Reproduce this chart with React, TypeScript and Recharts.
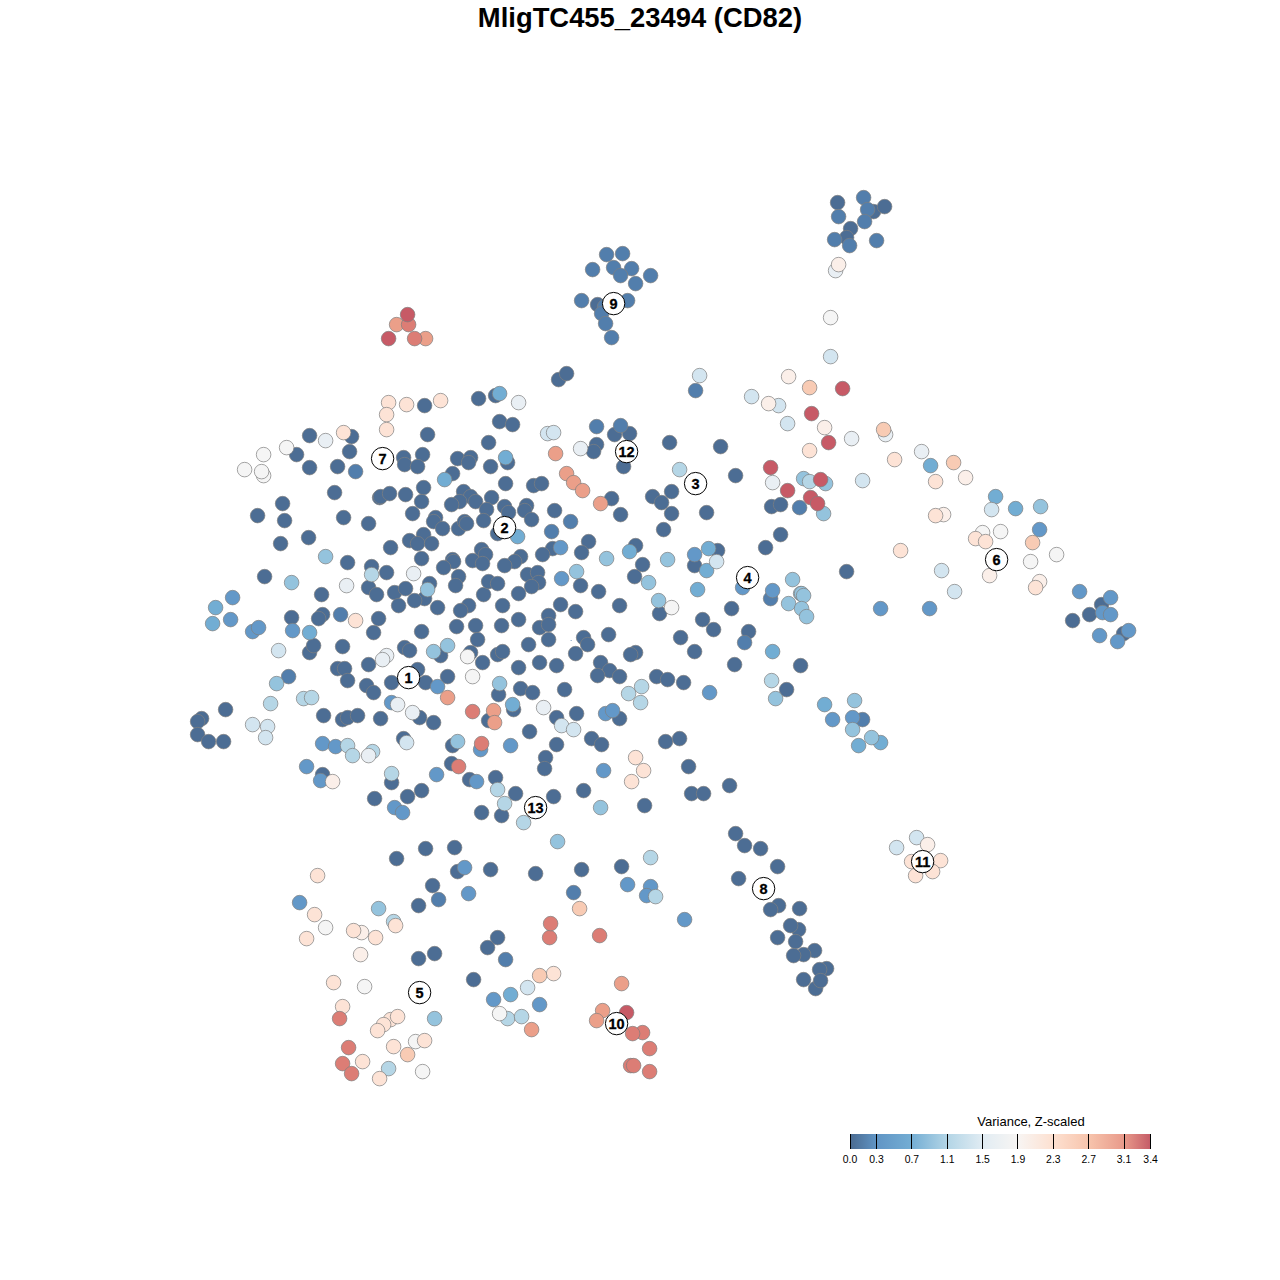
import { ScatterChart, Scatter, XAxis, YAxis } from 'recharts';

type Pt = [number, number];

// points, grouped by colour step of the variance scale
const level0: Pt[] = [
  [558,379],[566,373],[424,405],[478,398],[495,395],[499,421],[512,424],[488,442],[427,434],[309,435],[351,436],[296,454],[349,451],[309,467],[337,466],
  [403,457],[404,464],[422,454],[417,466],[457,458],[470,457],[468,462],[490,466],[452,473],[334,492],[379,497],[380,496],[389,493],[405,494],[423,487],[421,501],
  [463,491],[470,496],[459,501],[451,504],[475,501],[491,497],[486,509],[483,520],[282,503],[257,515],[284,520],[280,543],[308,537],[343,517],[368,523],[412,513],
  [435,517],[433,521],[442,528],[458,528],[464,521],[466,523],[423,534],[409,540],[417,543],[431,543],[390,547],[481,549],[485,554],[472,560],[482,563],[452,559],
  [453,561],[443,567],[421,558],[347,562],[371,566],[386,572],[264,576],[321,594],[368,587],[376,594],[394,592],[405,588],[429,583],[424,598],[414,600],[398,605],
  [437,607],[458,576],[455,585],[483,594],[488,581],[497,583],[468,605],[460,610],[291,617],[322,614],[318,618],[378,618],[373,632],[421,631],[456,626],[475,625],
  [497,654],[502,651],[309,652],[313,645],[342,646],[404,647],[409,650],[477,639],[440,655],[368,664],[470,652],[482,662],[337,668],[344,668],[347,680],[366,685],
  [373,692],[391,682],[417,669],[425,682],[447,676],[498,694],[419,717],[433,722],[323,715],[225,709],[201,718],[197,721],[197,734],[208,741],[223,741],[342,719],
  [347,717],[357,715],[380,718],[488,720],[403,738],[452,745],[322,774],[391,782],[451,763],[469,779],[421,790],[407,796],[374,798],[481,812],[501,815],
  [518,619],[501,625],[548,615],[539,627],[548,624],[575,611],[548,639],[528,644],[518,667],[539,662],[556,665],[583,637],[587,644],[575,653],[608,634],[635,652],
  [630,654],[600,662],[609,670],[597,675],[619,676],[659,613],[702,619],[713,629],[680,637],[694,651],[748,631],[734,664],[800,665],[656,676],[667,679],[683,682],
  [786,689],[520,688],[532,692],[564,689],[513,709],[556,717],[576,713],[619,718],[529,731],[556,744],[591,738],[601,744],[665,741],[679,738],[545,757],[544,768],
  [688,766],[729,785],[691,793],[703,793],[495,777],[515,793],[553,796],[583,790],[644,805],[735,833],
  [614,434],[629,433],[596,444],[593,451],[623,466],[669,442],[720,446],[611,498],[620,514],[735,475],[652,496],[671,491],[661,502],[671,513],[706,512],[663,529],
  [507,462],[505,483],[533,485],[541,483],[504,506],[508,512],[526,505],[524,510],[531,519],[554,510],[497,533],[588,541],[552,548],[542,554],[581,552],[520,556],
  [514,561],[504,565],[635,545],[642,564],[634,576],[694,565],[717,550],[765,547],[780,534],[527,574],[537,572],[538,582],[531,586],[518,593],[580,585],[598,591],
  [502,605],[560,604],[619,605],[731,608],[846,571],[771,506],[780,504],
  [744,845],[760,848],[777,866],[738,878],[778,905],[770,909],[799,908],[798,929],[790,925],[777,937],[795,941],[814,950],[803,954],[793,955],[826,968],[819,969],
  [803,979],[815,988],[820,980],[396,858],[425,848],[454,847],[457,871],[490,869],[535,873],[581,869],[621,866],[432,885],[418,905],[497,937],[487,947],[418,958],[434,953],[473,979],
  [597,304],[1101,604],[1123,633],[1089,614],[1072,620],[837,202],[873,211],[884,206],[850,228],[846,237],
];
const level1: Pt[] = [
  [863,197],[867,209],[838,216],[864,221],[834,239],[849,245],[876,240],
  [606,254],[622,253],[613,267],[631,268],[592,269],[620,275],[650,275],[635,283],[581,300],[627,300],[604,306],[601,313],[605,323],[611,337],
  [695,390],[596,426],[620,425],[355,471],[570,521],[551,531],[340,614],[288,676],[799,507],[770,598],[744,642],[573,892],[438,899],[505,959],[862,719],
];
const level2: Pt[] = [
  [232,597],[230,619],[252,631],[258,627],[292,630],[391,702],[605,713],[612,710],[510,745],[436,774],[603,770],[476,781],[480,749],[560,547],[561,578],[694,554],
  [742,587],[772,590],[709,692],[464,867],[468,893],[627,884],[650,886],[646,895],[684,919],[493,999],[539,1004],[880,608],[929,608],[1039,529],[1110,597],[1102,612],
  [1110,614],[1099,635],[1117,641],[1128,630],[1079,591],[394,807],[402,812],[437,686],[832,719],[852,717],[320,780],[306,766],[322,743],[335,746],[299,902],
];
const level3: Pt[] = [
  [444,479],[212,623],[215,607],[309,632],[505,457],[499,393],[517,536],[708,548],[706,570],[697,589],[629,551],[512,704],[995,496],[1015,508],[930,465],[824,704],
  [880,742],[858,745],[772,651],[510,994],
];
const level4: Pt[] = [
  [291,582],[427,589],[433,651],[447,645],[325,556],[606,558],[667,559],[576,571],[648,582],[658,600],[792,579],[788,603],[800,593],[801,593],[803,595],[801,608],
  [806,616],[499,683],[276,683],[457,741],[557,841],[600,807],[378,908],[434,1018],[1040,506],[854,700],[852,729],[871,737],[775,698],[823,513],[825,483],[803,478],
];
const level5: Pt[] = [
  [371,574],[303,698],[311,697],[347,745],[352,755],[372,751],[391,773],[497,789],[504,803],[523,822],[679,469],[641,686],[628,693],[640,702],[771,680],[650,857],
  [655,896],[393,921],[388,1068],[507,1018],[521,1016],[809,481],[270,703],
];
const level6: Pt[] = [
  [278,650],[252,724],[267,726],[265,737],[406,742],[561,725],[573,729],[547,433],[553,432],[699,375],[751,396],[778,405],[787,423],[862,480],[527,987],[716,561],
  [941,570],[954,591],[991,509],[916,837],[896,847],[830,356],
];
const level7: Pt[] = [
  [325,440],[346,585],[413,573],[386,655],[382,659],[397,704],[412,712],[518,402],[580,448],[772,482],[851,438],[885,434],[921,451],[368,755],[543,707],[835,270],
];
const level8: Pt[] = [
  [286,447],[263,454],[244,469],[263,475],[261,471],[467,656],[472,676],[671,607],[499,1013],[422,1071],[415,1041],[364,986],[982,532],[1000,531],[1056,554],[1030,561],
  [830,317],[325,927],
];
const level9: Pt[] = [
  [332,781],[788,376],[768,403],[824,427],[965,477],[943,514],[989,575],[1039,581],[360,954],[361,932],[838,264],[927,844],
];
const level10: Pt[] = [
  [388,402],[406,404],[440,400],[386,414],[386,429],[343,432],[355,620],[635,757],[643,770],[631,781],[809,450],[894,459],[935,481],[935,515],[975,538],[985,541],
  [900,550],[1035,587],[317,875],[314,914],[395,925],[353,930],[375,937],[306,938],[333,982],[553,973],[342,1006],[390,1019],[383,1024],[397,1016],[377,1030],[424,1040],
  [393,1046],[362,1061],[379,1078],[911,861],[940,860],[932,871],[915,875],
];
const level11: Pt[] = [
  [809,387],[883,429],[953,462],[1032,542],[579,908],[539,975],[407,1054],
];
const level12: Pt[] = [
  [447,697],[555,453],[566,473],[573,482],[582,490],[600,503],[493,710],[494,722],[621,983],[602,1010],[596,1020],[396,324],[425,338],[531,1029],
];
const level13: Pt[] = [
  [408,324],[414,338],[472,711],[481,743],[549,937],[599,935],[642,1032],[649,1048],[630,1065],[633,1065],[649,1071],[632,1033],[348,1047],[458,766],[550,923],[339,1018],
  [342,1063],[351,1073],
];
const level14: Pt[] = [
  [407,314],[388,338],[842,388],[811,413],[828,442],[770,467],[787,490],[820,479],[810,497],[817,503],[626,1012],
];
const strayPoints: Pt[] = [[570.5, 640]];

const levels = [level0, level1, level2, level3, level4, level5, level6, level7, level8, level9, level10, level11, level12, level13, level14];
const levelColors = ['#4c6d94', '#527eac', '#6398c8', '#72add3', '#94c3dd', '#b5d6e6', '#d3e5f0', '#e9eff4', '#f5f5f5', '#fbefe9', '#fde3d6', '#f8cbb4', '#eb9f89', '#dc7d75', '#c75a66'];

const clusterIds = ['1', '2', '3', '4', '5', '6', '7', '8', '9', '10', '11', '12', '13'];
const clusterX = [408, 504, 695, 747, 419, 996, 382, 763, 613, 616, 922, 626, 535];
const clusterY = [677, 527, 483, 577, 992, 559, 458, 888, 303, 1023, 861, 451, 807];

const legendTicks = [0.0, 0.3, 0.7, 1.1, 1.5, 1.9, 2.3, 2.7, 3.1, 3.4];
const legendColors = ['#4a6a90', '#6095c5', '#74aed4', '#b3d5e6', '#e1ecf3', '#f8f5f3', '#fde0d0', '#f7c4ac', '#e8998a', '#c45a66'];

const FONT = '"Liberation Sans", Arial, sans-serif';
const LEGEND_LEFT = 850;
const LEGEND_WIDTH = 300.6;

const toRows = (pts: Pt[]) => pts.map(([x, y]) => ({ x, y }));
const clusterRows = clusterIds.map((id, i) => ({ id, x: clusterX[i], y: clusterY[i] }));

function Dot(props: any) {
  return <circle cx={props.cx} cy={props.cy} r={7.3} fill={props.color} stroke="#7f7f7f" strokeOpacity={0.7} strokeWidth={1} />;
}

function ClusterBadge(props: any) {
  return (
    <g>
      <circle cx={props.cx} cy={props.cy} r={11.2} fill="#ffffff" stroke="#000000" strokeWidth={1} />
      <text x={props.cx} y={props.cy + 5.2} textAnchor="middle" fontFamily={FONT} fontWeight="bold" fontSize={14.5} fill="#000000" stroke="#000000" strokeWidth={0.3}>
        {props.payload.id}
      </text>
    </g>
  );
}

function VarianceLegend() {
  const stops = legendColors.map((c, i) => `${c} ${(legendTicks[i] / 3.4) * 100}%`).join(', ');
  return (
    <div style={{ position: 'absolute', left: LEGEND_LEFT, top: 1114, width: LEGEND_WIDTH, height: 54, fontFamily: FONT, color: '#000' }}>
      <div style={{ position: 'absolute', left: 0, width: 362, top: 0, textAlign: 'center', fontSize: 13, lineHeight: '16px' }}>Variance, Z-scaled</div>
      <div style={{ position: 'absolute', left: 0, top: 20, width: LEGEND_WIDTH, height: 15, background: `linear-gradient(to right, ${stops})` }} />
      {legendTicks.map((t) => {
        const left = (t / 3.4) * LEGEND_WIDTH;
        return (
          <div key={t}>
            <div style={{ position: 'absolute', left: left - 0.5, top: 20, width: 1, height: 15, background: '#000' }} />
            <div style={{ position: 'absolute', left: left - 20, top: 40, width: 40, textAlign: 'center', fontSize: 10.4, lineHeight: '12px' }}>{t.toFixed(1)}</div>
          </div>
        );
      })}
    </div>
  );
}

export default function App() {
  return (
    <div style={{ position: 'absolute', left: 0, top: 0, width: 1280, height: 1280, background: '#fff' }}>
      <div style={{ position: 'absolute', left: 0, width: 1280, top: 2, textAlign: 'center', fontFamily: FONT, fontWeight: 'bold', fontSize: 27.4, lineHeight: '32px', color: '#000' }}>
        MligTC455_23494 (CD82)
      </div>
      <ScatterChart width={1280} height={1280} margin={{ top: 0, right: 0, bottom: 0, left: 0 }}>
        <XAxis type="number" dataKey="x" domain={[-0.6, 1279.4]} hide />
        <YAxis type="number" dataKey="y" domain={[-0.6, 1279.4]} reversed hide />
        {levels.map((pts, i) => (
          <Scatter key={i} data={toRows(pts)} isAnimationActive={false} shape={(p: any) => <Dot {...p} color={levelColors[i]} />} />
        ))}
        <Scatter data={toRows(strayPoints)} isAnimationActive={false} shape={(p: any) => <circle cx={p.cx} cy={p.cy} r={0.5} fill="#4f79a8" />} />
        <Scatter data={clusterRows} isAnimationActive={false} shape={(p: any) => <ClusterBadge {...p} />} />
      </ScatterChart>
      <VarianceLegend />
    </div>
  );
}
